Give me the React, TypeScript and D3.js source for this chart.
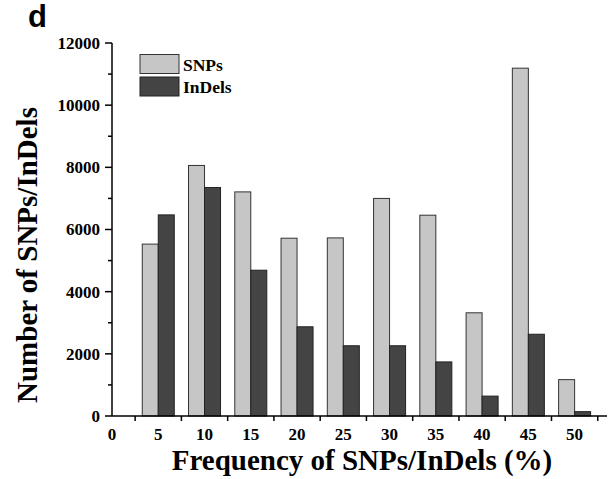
import React from "react";
import * as d3 from "d3";

const categories = [5, 10, 15, 20, 25, 30, 35, 40, 45, 50];
const snps = [5530, 8060, 7210, 5720, 5730, 7000, 6460, 3320, 11190, 1170];
const indels = [6470, 7350, 4690, 2870, 2260, 2260, 1740, 640, 2630, 140];
const yTicks = [0, 2000, 4000, 6000, 8000, 10000, 12000];
const xLabels = [0, 5, 10, 15, 20, 25, 30, 35, 40, 45, 50];

const W = 609;
const H = 479;
const serif = "'Liberation Serif', 'Times New Roman', serif";

export default function App() {
  const x = d3.scaleLinear().domain([0, 53.5]).range([112, 607]);
  const y = d3.scaleLinear().domain([0, 12000]).range([416, 43]);
  const barW = 1.73; // bar width in x units
  const minorY = d3.range(1000, 12000, 2000);
  const xTickMarks = d3.range(2.5, 53, 5);

  return (
    <svg
      width={W}
      height={H}
      style={{ position: "absolute", left: 0, top: 0, display: "block", background: "#fff" }}
    >
      {/* panel letter */}
      <text x={28} y={27} fontFamily="'Liberation Sans', Arial, sans-serif" fontWeight="bold" fontSize={31}>
        d
      </text>

      {/* bars */}
      {categories.map((c, i) => (
        <g key={c}>
          <rect
            x={x(c - barW)}
            y={y(snps[i])}
            width={x(c) - x(c - barW)}
            height={y(0) - y(snps[i])}
            fill="#c6c6c6"
            stroke="#333"
            strokeWidth={1}
          />
          <rect
            x={x(c)}
            y={y(indels[i])}
            width={x(c + barW) - x(c)}
            height={y(0) - y(indels[i])}
            fill="#444"
            stroke="#222"
            strokeWidth={1}
          />
        </g>
      ))}

      {/* y axis */}
      <line x1={x(0)} x2={x(0)} y1={y(12000)} y2={y(0)} stroke="#000" strokeWidth={1.5} />
      {yTicks.map((t) => (
        <g key={t}>
          <line x1={x(0) - 7} x2={x(0)} y1={y(t)} y2={y(t)} stroke="#000" strokeWidth={1.5} />
          <text
            x={x(0) - 12}
            y={y(t)}
            dy="0.35em"
            textAnchor="end"
            fontFamily={serif}
            fontWeight="bold"
            fontSize={17}
          >
            {t}
          </text>
        </g>
      ))}
      {minorY.map((t) => (
        <line key={t} x1={x(0) - 4} x2={x(0)} y1={y(t)} y2={y(t)} stroke="#000" strokeWidth={1.5} />
      ))}

      {/* x axis */}
      <line x1={x(0)} x2={x(53.5)} y1={y(0)} y2={y(0)} stroke="#000" strokeWidth={1.5} />
      {xTickMarks.map((t) => (
        <line key={t} x1={x(t)} x2={x(t)} y1={y(0)} y2={y(0) + 5} stroke="#000" strokeWidth={1.5} />
      ))}
      {xLabels.map((t) => (
        <text
          key={t}
          x={x(t)}
          y={440}
          textAnchor="middle"
          fontFamily={serif}
          fontWeight="bold"
          fontSize={17}
        >
          {t}
        </text>
      ))}

      {/* axis titles */}
      <text
        x={362}
        y={470}
        textAnchor="middle"
        fontFamily={serif}
        fontWeight="bold"
        fontSize={29}
      >
        Frequency of SNPs/InDels (%)
      </text>
      <text
        transform={`translate(37,255) rotate(-90)`}
        textAnchor="middle"
        fontFamily={serif}
        fontWeight="bold"
        fontSize={29}
      >
        Number of SNPs/InDels
      </text>

      {/* legend */}
      <rect x={140} y={54.5} width={39} height={19} fill="#c6c6c6" stroke="#333" strokeWidth={1} />
      <rect x={140} y={77} width={39} height={19} fill="#444" stroke="#222" strokeWidth={1} />
      <text x={183} y={71} fontFamily={serif} fontWeight="bold" fontSize={17.5}>
        SNPs
      </text>
      <text x={183} y={93} fontFamily={serif} fontWeight="bold" fontSize={17.5}>
        InDels
      </text>
    </svg>
  );
}
